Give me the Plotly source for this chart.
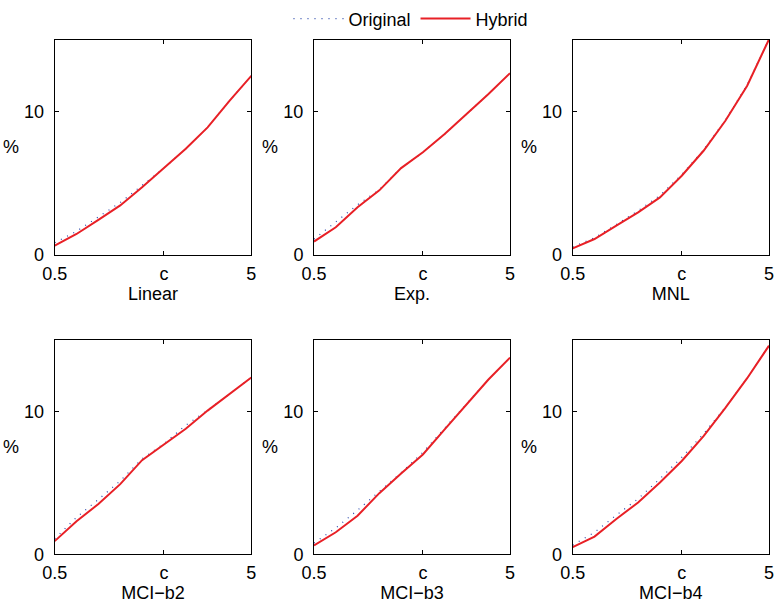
import plotly.graph_objects as go
from plotly.subplots import make_subplots

# Shared x positions of the sampled points
x_vals = [0.5, 1.0, 1.5, 2.0, 2.5, 3.0, 3.5, 4.0, 4.5, 5.0]

panel_names = ["Linear", "Exp.", "MNL", "MCI\u2212b2", "MCI\u2212b3", "MCI\u2212b4"]

# Hybrid estimates (%) per model
hybrid_linear = [0.65, 1.46, 2.44, 3.45, 4.71, 6.05, 7.40, 8.89, 10.74, 12.48]
hybrid_exp    = [0.93, 1.93, 3.32, 4.50, 6.05, 7.15, 8.42, 9.81, 11.20, 12.67]
hybrid_mnl    = [0.46, 1.11, 2.04, 2.97, 4.01, 5.52, 7.26, 9.35, 11.79, 15.03]
hybrid_b2     = [0.93, 2.32, 3.53, 4.92, 6.60, 7.70, 8.80, 10.07, 11.23, 12.39]
hybrid_b3     = [0.63, 1.55, 2.71, 4.29, 5.66, 7.00, 8.75, 10.53, 12.23, 13.78]
hybrid_b4     = [0.51, 1.25, 2.48, 3.64, 5.03, 6.54, 8.28, 10.26, 12.34, 14.62]

# Original estimates (%) per model
original_linear = [0.85, 1.65, 2.65, 3.65, 4.85, 6.05, 7.40, 8.89, 10.74, 12.48]
original_exp    = [1.10, 2.30, 3.50, 4.55, 6.05, 7.15, 8.42, 9.81, 11.20, 12.67]
original_mnl    = [0.55, 1.20, 2.12, 3.08, 4.15, 5.60, 7.32, 9.40, 11.85, 15.03]
original_b2     = [1.10, 2.60, 3.85, 5.15, 6.70, 7.75, 9.05, 10.10, 11.23, 12.39]
original_b3     = [0.80, 1.85, 3.10, 4.40, 5.72, 7.15, 8.85, 10.53, 12.23, 13.78]
original_b4     = [0.65, 1.55, 2.75, 3.90, 5.30, 6.80, 8.45, 10.30, 12.34, 14.62]

hybrid_series = [hybrid_linear, hybrid_exp, hybrid_mnl, hybrid_b2, hybrid_b3, hybrid_b4]
original_series = [original_linear, original_exp, original_mnl, original_b2, original_b3, original_b4]

x_tick_vals = [0.5, 3.0, 5.0]
x_tick_text = ["0.5", "c", "5"]
y_tick_vals = [0, 10]
y_tick_text = ["0", "10"]

W, H = 774, 604
FONT = "Liberation Sans, Arial, Helvetica, sans-serif"
FS = 18
RED = "rgb(232,32,38)"
BLUE = "rgb(40,70,170)"

# Panel boxes in pixels: (left, right) columns and (top, bottom) rows
cols_px = [(54.7, 251.3), (314.0, 510.0), (572.7, 769.0)]
rows_px = [(35.0, 252.0), (338.0, 554.0)]

fig = make_subplots(rows=2, cols=3)

for i in range(6):
    r, c = divmod(i, 3)
    fig.add_trace(go.Scatter(
        x=x_vals, y=original_series[i], mode="lines", name="Original",
        line=dict(color=BLUE, width=1.2, dash="1px,6px"),
        showlegend=(i == 0), legendrank=1,
    ), row=r + 1, col=c + 1)
    fig.add_trace(go.Scatter(
        x=x_vals, y=hybrid_series[i], mode="lines", name="Hybrid",
        line=dict(color=RED, width=2),
        showlegend=(i == 0), legendrank=2,
    ), row=r + 1, col=c + 1)

    l, rr = cols_px[c]
    t, b = rows_px[r]
    xdom = [l / W, rr / W]
    ydom = [(H - b) / H, (H - t) / H]
    fig.update_xaxes(
        domain=xdom, range=[0.5, 5], tickvals=x_tick_vals, ticktext=x_tick_text,
        ticks="inside", ticklen=4, tickcolor="black", mirror="ticks",
        showline=True, linecolor="black", linewidth=1, showgrid=False, zeroline=False,
        automargin=False, ticklabelstandoff=2, ticklabeloverflow="allow",
        tickfont=dict(family=FONT, size=FS, color="black"),
        title=dict(text=panel_names[i], font=dict(family=FONT, size=FS, color="black"), standoff=2),
        row=r + 1, col=c + 1,
    )
    fig.update_yaxes(
        domain=ydom, range=[0, 15], tickvals=y_tick_vals, ticktext=y_tick_text,
        ticks="inside", ticklen=4, tickcolor="black", mirror="ticks",
        showline=True, linecolor="black", linewidth=1, showgrid=False, zeroline=False,
        automargin=False, ticklabelstandoff=6, ticklabeloverflow="allow",
        tickfont=dict(family=FONT, size=FS, color="black"),
        row=r + 1, col=c + 1,
    )
    # Horizontal "%" label beside each panel
    fig.add_annotation(
        text="%", xref="paper", yref="paper",
        x=(l - 44) / W, y=(H - (t + b) / 2) / H,
        xanchor="center", yanchor="middle", showarrow=False,
        font=dict(family=FONT, size=FS, color="black"),
    )

fig.update_layout(
    width=W, height=H,
    margin=dict(l=0, r=0, t=0, b=0),
    paper_bgcolor="white", plot_bgcolor="white",
    font=dict(family=FONT, size=FS, color="black"),
    legend=dict(
        orientation="h", x=0.531, y=(H - 14) / H, xanchor="center", yanchor="middle",
        bgcolor="rgba(0,0,0,0)", itemwidth=50, font=dict(family=FONT, size=FS),
        tracegroupgap=0,
    ),
)

fig.write_html("out.html")
